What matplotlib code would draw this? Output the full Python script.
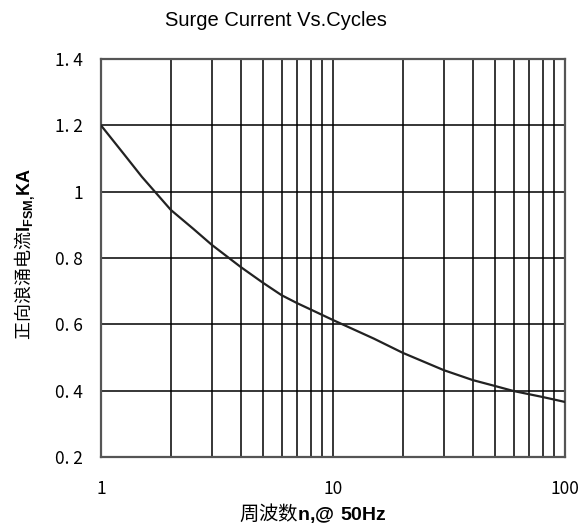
"""
plot.py
-------
Surge current vs. cycles curve (log x axis).
"""

import matplotlib
matplotlib.use("Agg")
import matplotlib.pyplot as plt
from matplotlib.ticker import FixedLocator, NullFormatter

# ── Data ──────────────────────────────────────────────────────────────────────
cycles  = [1, 1.25, 1.5, 2, 2.5, 3, 4, 5, 6, 7, 8, 10,
           15, 20, 30, 40, 50, 60, 80, 100]
current = [1.2, 1.115, 1.045, 0.945, 0.888, 0.84, 0.773, 0.725, 0.688, 0.664,
           0.645, 0.613, 0.557, 0.514, 0.462, 0.432, 0.414, 0.399, 0.381,
           0.366]

y_ticks  = [0.2, 0.4, 0.6, 0.8, 1.0, 1.2, 1.4]
y_labels = ["0. 2", "0. 4", "0. 6", "0. 8", "1", "1. 2", "1. 4"]
x_ticks  = [1, 10, 100]
x_labels = ["1", "10", "100"]

TITLE  = "Surge Current Vs.Cycles"
XLABEL = r"周波数$\mathbf{n{,}@\ 50Hz}$"
YLABEL = r"正向浪涌电流$\mathbf{I_{FSM{,}}KA}$"

CJK = "Noto Sans CJK SC"

plt.rcParams["mathtext.fontset"] = "custom"
plt.rcParams["mathtext.rm"] = "Liberation Sans"
plt.rcParams["mathtext.bf"] = "Liberation Sans:bold"


# ── Plot ──────────────────────────────────────────────────────────────────────
def main():
    fig = plt.figure(figsize=(5.81, 5.27), dpi=100)
    ax = fig.add_axes([0.1738, 0.1328, 0.7987, 0.7552])

    ax.plot(cycles, current, color="#222222", linewidth=1.6, zorder=3)

    ax.set_xscale("log")
    ax.set_xlim(1, 100)
    ax.set_ylim(0.2, 1.4)

    ax.xaxis.set_major_locator(FixedLocator(x_ticks))
    ax.set_xticklabels(x_labels)
    minor = [k * d for d in (1, 10) for k in range(2, 10)]
    ax.xaxis.set_minor_locator(FixedLocator(minor))
    ax.xaxis.set_minor_formatter(NullFormatter())
    ax.set_yticks(y_ticks)
    ax.set_yticklabels(y_labels)

    ax.grid(True, which="both", axis="x", color="black", linewidth=1.1)
    ax.grid(True, which="major", axis="y", color="black", linewidth=1.1)

    ax.tick_params(which="both", length=0)
    ax.tick_params(axis="x", pad=16.5, labelsize=12.5)
    ax.tick_params(axis="y", pad=13, labelsize=12.5)
    for lab in ax.get_xticklabels() + ax.get_yticklabels():
        lab.set_family(CJK)

    for side in ax.spines.values():
        side.set_color("#555555")
        side.set_linewidth(1.6)

    fig.text(0.475, 0.962, TITLE, fontsize=14.5, family="Liberation Sans",
             ha="center", va="center")
    fig.text(0.5387, 0.0266, XLABEL, fontsize=14, family=CJK,
             ha="center", va="center")
    fig.text(0.043, 0.518, YLABEL, fontsize=13, family=CJK,
             ha="center", va="center", rotation=90)

    plt.savefig("out.png", dpi=100)
    plt.close()


if __name__ == "__main__":
    main()
